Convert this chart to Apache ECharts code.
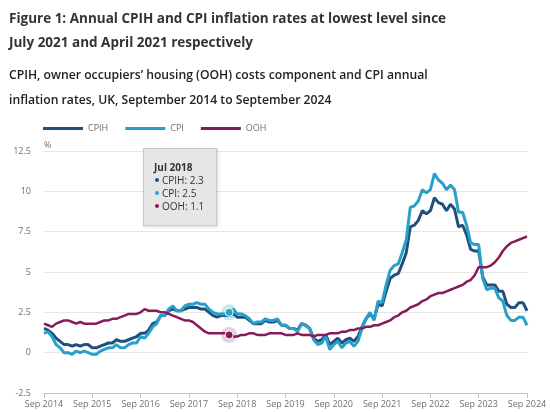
<!DOCTYPE html>
<html>
<head>
<meta charset="utf-8">
<script src="https://cdn.jsdelivr.net/npm/echarts@6/dist/echarts.min.js"></script>
<style>
html,body{margin:0;padding:0;background:#fff;}
#chart{width:550px;height:412px;}
</style>
</head>
<body>
<div id="chart"></div>
<script>
// Monthly categories, Sep 2014 to Sep 2024
const monthNames = ['Jan','Feb','Mar','Apr','May','Jun','Jul','Aug','Sep','Oct','Nov','Dec'];
const categories = [];
for (let y = 2014, m = 8; y < 2024 || (y === 2024 && m <= 8); ) {
  categories.push(monthNames[m] + ' ' + y);
  m++; if (m === 12) { m = 0; y++; }
}

// Annual inflation rates (%)
const cpih = [
  1.5,1.4,1.2,0.9,
  0.7,0.5,0.5,0.4,0.5,0.4,0.5,0.5,0.3,0.3,0.4,0.5,
  0.6,0.6,0.8,0.7,0.7,0.8,0.9,1.0,1.2,1.2,1.4,1.8,
  1.9,2.3,2.3,2.6,2.7,2.6,2.6,2.7,2.8,2.8,2.8,2.7,
  2.7,2.5,2.3,2.2,2.3,2.3,2.3,2.4,2.2,2.2,2.2,2.0,
  1.8,1.8,1.8,2.0,1.9,1.9,2.0,1.7,1.7,1.5,1.5,1.4,
  1.8,1.7,1.5,0.9,0.7,0.8,1.1,0.5,0.7,0.9,0.6,0.8,
  0.9,0.7,1.0,1.6,2.1,2.4,2.1,3.0,2.9,3.8,4.6,4.8,
  4.9,5.5,6.2,7.8,7.9,8.2,8.8,8.6,8.8,9.6,9.3,9.2,
  8.8,9.2,8.9,7.8,7.9,7.3,6.4,6.3,6.3,4.7,4.2,4.2,
  4.2,3.8,3.8,3.0,2.8,2.8,3.1,3.1,2.6
];
const cpi = [
  1.2,1.3,1.0,0.5,
  0.3,0.0,0.0,-0.1,0.1,0.0,0.1,0.0,-0.1,-0.1,0.1,0.2,
  0.3,0.3,0.5,0.3,0.3,0.5,0.6,0.6,1.0,0.9,1.2,1.6,
  1.8,2.3,2.3,2.7,2.9,2.6,2.6,2.9,3.0,3.0,3.1,3.0,
  3.0,2.7,2.5,2.4,2.4,2.4,2.5,2.7,2.4,2.4,2.3,2.1,
  1.8,1.9,1.9,2.1,2.0,2.0,2.1,1.7,1.7,1.5,1.5,1.3,
  1.8,1.7,1.5,0.8,0.5,0.6,1.0,0.2,0.5,0.7,0.3,0.6,
  0.7,0.4,0.7,1.5,2.1,2.5,2.0,3.2,3.1,4.2,5.1,5.4,
  5.5,6.2,7.0,9.0,9.1,9.4,10.1,9.9,10.1,11.1,10.7,10.5,
  10.1,10.4,10.1,8.7,8.7,7.9,6.8,6.7,6.7,4.6,3.9,4.0,
  4.0,3.4,3.2,2.3,2.0,2.0,2.2,2.2,1.7
];
const ooh = [
  1.8,1.7,1.6,1.8,
  1.9,2.0,2.0,1.9,1.8,1.9,1.8,1.8,1.8,1.8,1.9,2.0,
  2.0,2.1,2.1,2.2,2.3,2.4,2.4,2.4,2.5,2.7,2.6,2.6,
  2.6,2.5,2.5,2.4,2.3,2.2,2.1,2.0,2.0,1.9,1.7,1.5,
  1.3,1.2,1.2,1.2,1.2,1.2,1.1,1.0,1.0,1.1,1.1,1.2,
  1.2,1.1,1.1,1.1,1.2,1.2,1.2,1.2,1.1,1.1,1.1,1.2,
  1.1,1.1,1.1,1.0,1.1,1.1,1.1,1.2,1.2,1.2,1.3,1.3,
  1.4,1.4,1.5,1.5,1.6,1.6,1.7,1.7,1.8,1.9,2.0,2.2,
  2.3,2.5,2.6,2.8,2.9,3.0,3.2,3.3,3.5,3.6,3.7,3.7,
  3.8,3.9,4.0,4.1,4.2,4.4,4.5,4.8,5.3,5.3,5.3,5.4,
  5.6,5.9,6.3,6.6,6.8,6.9,7.0,7.1,7.2
];
const seriesNames = ['CPIH','CPI','OOH'];
const yTicks = [-2.5, 0, 2.5, 5, 7.5, 10, 12.5];
const highlightLabel = 'Jul 2018';

const colors = ['#21507d','#27a0cc','#871a5b'];
const halos = ['rgba(33,80,125,0.2)','rgba(39,160,204,0.25)','rgba(135,26,91,0.2)'];
const hi = categories.indexOf(highlightLabel);
const values = [cpih, cpi, ooh];
const font = 'Open Sans';

function mk(i, withDot) {
  return {
    name: seriesNames[i],
    type: 'line',
    data: values[i],
    showSymbol: false,
    symbol: 'none',
    emphasis: { disabled: true },
    lineStyle: { width: i === 2 ? 2.5 : 3, color: colors[i] },
    itemStyle: { color: colors[i] },
    markPoint: withDot ? {
      silent: true,
      animation: false,
      label: { show: false },
      data: [
        { coord: [categories[hi], values[i][hi]], symbol: 'circle', symbolSize: 16, itemStyle: { color: halos[i] } },
        { coord: [categories[hi], values[i][hi]], symbol: 'circle', symbolSize: 8, itemStyle: { color: colors[i], borderColor: '#fff', borderWidth: 1 } }
      ]
    } : undefined
  };
}

const chart = echarts.init(document.getElementById('chart'), null, { renderer: 'canvas' });
chart.setOption({
  animation: false,
  textStyle: { fontFamily: font },
  title: [
    { text: 'Figure 1: Annual CPIH and CPI inflation rates at lowest level since\nJuly 2021 and April 2021 respectively',
      left: 4, top: 2,
      textStyle: { fontFamily: font, fontSize: 13.5, fontWeight: 'bold', color: '#333', lineHeight: 24 } },
    { text: 'CPIH, owner occupiers\u2019 housing (OOH) costs component and CPI annual\ninflation rates, UK, September 2014 to September 2024',
      left: 4, top: 58,
      textStyle: { fontFamily: font, fontSize: 12.2, fontWeight: 600, color: '#222', lineHeight: 25 } }
  ],
  legend: {
    data: seriesNames,
    left: 38, top: 119,
    icon: 'rect', itemWidth: 40, itemHeight: 3, itemGap: 17,
    textStyle: { fontFamily: font, fontSize: 9, color: '#707070' }
  },
  tooltip: {
    trigger: 'axis',
    axisPointer: { type: 'none' },
    alwaysShowContent: true,
    transitionDuration: 0,
    showDelay: 0,
    position: [143, 148],
    backgroundColor: '#e6e6e6',
    borderColor: '#c9c9c9',
    borderWidth: 1,
    padding: [12, 12, 12, 10],
    extraCssText: 'border-radius:0;box-shadow:1px 1px 3px rgba(0,0,0,0.15);',
    textStyle: { fontFamily: font, fontSize: 10, color: '#333', lineHeight: 13 },
    formatter: function (params) {
      let s = '<div style="font-family:Open Sans;font-size:10px;line-height:13px;color:#333">';
      s += '<b style="font-weight:700">' + params[0].axisValue + '</b>';
      params.forEach(function (p) {
        s += '<br><span style="display:inline-block;width:4px;height:4px;border-radius:2px;margin:0 3px 2px 1px;background:' + colors[p.seriesIndex] + '"></span>' + p.seriesName + ': ' + p.value;
      });
      return s + '</div>';
    }
  },
  grid: { left: 44, right: 23, top: 151, bottom: 19 },
  xAxis: {
    type: 'category',
    data: categories,
    boundaryGap: false,
    axisLine: { onZero: false, lineStyle: { color: '#c4c4c4' } },
    axisTick: { interval: function (i) { return i % 12 === 0; }, length: 5, lineStyle: { color: '#c4c4c4' } },
    axisLabel: {
      interval: function (i) { return i % 12 === 0; },
      margin: 7, fontSize: 9, color: '#707070', fontFamily: font
    },
    splitLine: { show: false }
  },
  yAxis: {
    type: 'value',
    min: yTicks[0], max: yTicks[yTicks.length - 1], interval: 2.5,
    name: '%',
    nameLocation: 'end',
    nameGap: 1,
    nameTextStyle: { align: 'left', fontSize: 9, color: '#707070', fontFamily: font },
    axisLine: { show: false },
    axisTick: { show: false },
    axisLabel: { margin: 13, fontSize: 9, color: '#707070', fontFamily: font },
    splitLine: { lineStyle: { color: '#e6e6e6' } }
  },
  series: [mk(0, false), mk(1, true), mk(2, true)]
});
chart.dispatchAction({ type: 'showTip', seriesIndex: 1, dataIndex: hi });
</script>
</body>
</html>
